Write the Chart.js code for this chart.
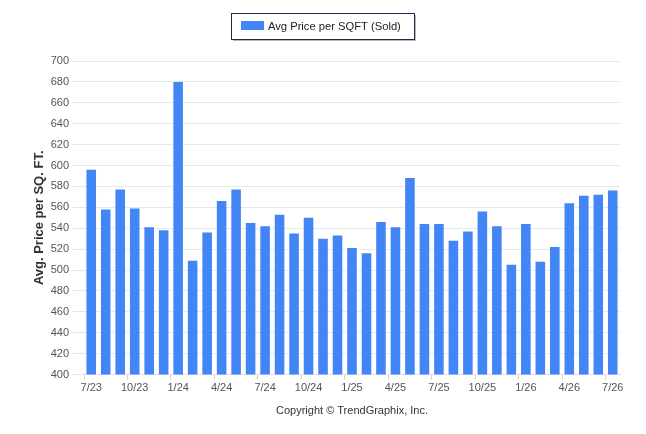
<!DOCTYPE html>
<html>
<head>
<meta charset="utf-8">
<script src="https://cdn.jsdelivr.net/npm/chart.js@4/dist/chart.umd.min.js"></script>
<style>
  html, body { margin: 0; padding: 0; background: #fff; }
  #wrap { width: 646px; height: 434px; }
</style>
</head>
<body>
<div id="wrap"><canvas id="chart"></canvas></div>
<script>
// Данные графика
const months = ['7/23', '8/23', '9/23', '10/23', '11/23', '12/23', '1/24', '2/24', '3/24', '4/24', '5/24', '6/24',
    '7/24', '8/24', '9/24', '10/24', '11/24', '12/24', '1/25', '2/25', '3/25', '4/25', '5/25', '6/25',
    '7/25', '8/25', '9/25', '10/25', '11/25', '12/25', '1/26', '2/26', '3/26', '4/26', '5/26', '6/26', '7/26'];
const avgPriceSold = [596, 558, 577, 559, 541, 538, 680, 509, 536, 566, 577, 545,
    542, 553, 535, 550, 530, 533, 521, 516, 546, 541, 588, 544,
    544, 528, 537, 556, 542, 505, 544, 508, 522, 564, 571, 572, 576];
const seriesLabel = 'Avg Price per SQFT (Sold)';
const yTitle = 'Avg. Price per SQ. FT.';
const copyright = 'Copyright \u00A9 TrendGraphix, Inc.';

const barColor = '#4285F4';
const font = 'Liberation Sans, Arial, sans-serif';

// Легенда в рамке с тенью
const boxLegend = {
    id: 'boxLegend',
    afterDraw(chart) {
        const ctx = chart.ctx;
        const x = 231, y = 13, w = 183, h = 26;
        ctx.save();
        ctx.fillStyle = '#b8b8b8';
        ctx.fillRect(x + 2, y + 2, w, h);
        ctx.fillStyle = '#ffffff';
        ctx.fillRect(x, y, w, h);
        ctx.strokeStyle = '#1c2b4a';
        ctx.lineWidth = 1;
        ctx.strokeRect(x + 0.5, y + 0.5, w, h);
        ctx.fillStyle = chart.data.datasets[0].backgroundColor;
        ctx.fillRect(241, 21, 23, 9);
        ctx.fillStyle = '#222';
        ctx.font = '11.2px ' + font;
        ctx.textBaseline = 'middle';
        ctx.fillText(chart.data.datasets[0].label, 268, 26.5);
        ctx.restore();
    }
};

new Chart(document.getElementById('chart'), {
    type: 'bar',
    data: {
        labels: months,
        datasets: [{
            label: seriesLabel,
            data: avgPriceSold,
            backgroundColor: barColor,
            borderWidth: 0,
            categoryPercentage: 1,
            barPercentage: 0.66
        }]
    },
    options: {
        responsive: true,
        maintainAspectRatio: false,
        animation: false,
        layout: {
            padding: { top: 61, right: 26, bottom: 16, left: 32 }
        },
        scales: {
            y: {
                min: 400,
                max: 700,
                afterFit(axis) { axis.width = 52; },
                ticks: {
                    stepSize: 20,
                    color: '#555',
                    font: { family: font, size: 11 },
                    padding: 3
                },
                grid: {
                    color: '#e8e8e8',
                    tickLength: 12,
                    drawTicks: true
                },
                border: { display: false },
                title: {
                    display: true,
                    text: yTitle,
                    color: '#333',
                    font: { family: font, size: 13, weight: 'bold' },
                    padding: { top: 0, bottom: 2 }
                }
            },
            x: {
                ticks: {
                    autoSkip: false,
                    maxRotation: 0,
                    color: '#555',
                    font: { family: font, size: 11 },
                    padding: 2,
                    callback: (v, i) => i % 3 === 0 ? months[i] : ''
                },
                grid: {
                    drawOnChartArea: false,
                    tickLength: 5,
                    tickColor: (c) => c.index % 3 === 0 ? '#d0d0d0' : 'rgba(0,0,0,0)'
                },
                border: { display: true, color: '#e0e0e0' },
                title: {
                    display: true,
                    text: copyright,
                    color: '#333',
                    font: { family: font, size: 11 },
                    padding: { top: 8, bottom: 0 }
                }
            }
        },
        plugins: {
            legend: { display: false },
            tooltip: { enabled: false }
        }
    },
    plugins: [boxLegend]
});
</script>
</body>
</html>
